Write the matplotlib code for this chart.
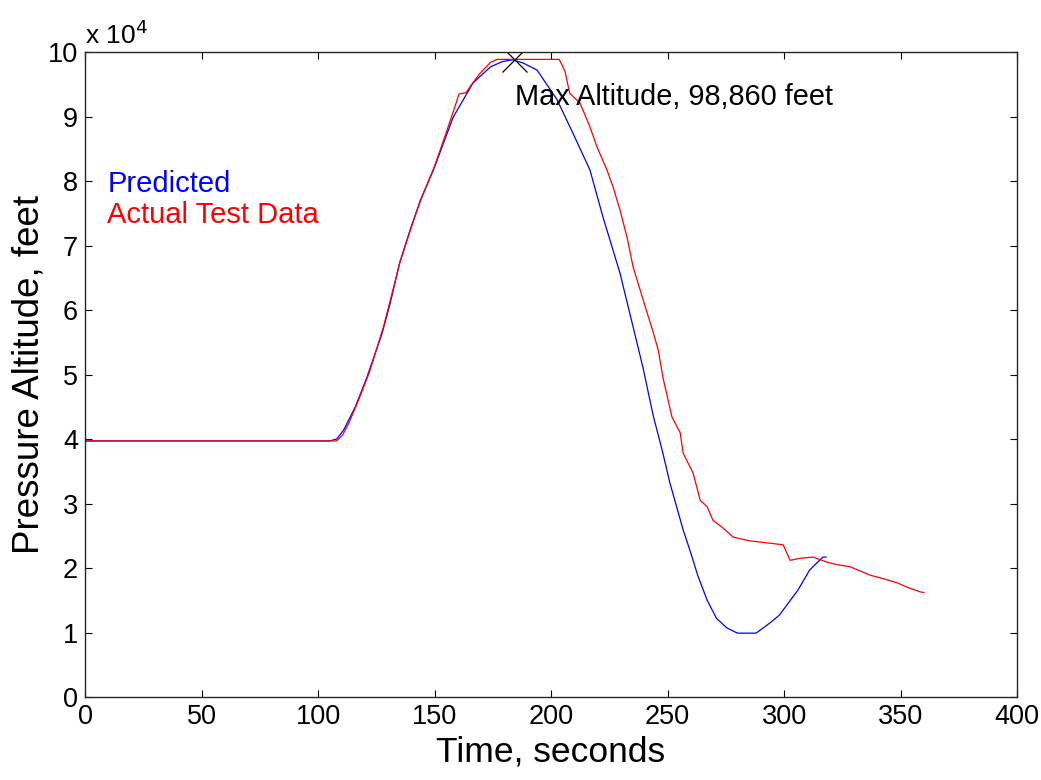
import matplotlib
matplotlib.use("Agg")
import matplotlib.pyplot as plt
from matplotlib.ticker import FuncFormatter

plt.rcParams['font.family'] = ['Liberation Sans', 'DejaVu Sans']

# Predicted trajectory
pred_t = [0, 105, 108, 111, 116, 121, 127.5, 131, 135, 139.5, 144, 149.5, 158, 166.5, 174, 179,
          183.3, 188, 194, 202.6, 209.4, 216.7, 222.3, 229.6, 235.2, 239.5, 243.8, 248, 251,
          256.7, 260, 263, 267, 271, 275.5, 280, 288, 294, 298, 306, 311, 316.7, 318]
pred_alt = [39700, 39700, 40000, 41400, 45000, 49600, 56400, 61100, 67300, 72400, 77100, 81700,
            89900, 95200, 97700, 98500, 98800, 98300, 97200, 92600, 87400, 81700, 74400, 65700,
            57400, 51000, 43700, 37800, 33200, 25900, 22300, 18800, 15000, 12200, 10700, 9900,
            9900, 11500, 12700, 16600, 19700, 21700, 21700]

# Actual test data
act_t = [0, 108, 110.5, 113, 117, 122, 128, 131, 135, 140, 144, 150, 155, 159, 160.5, 163.5, 166,
         169.5, 174, 177, 185, 195, 203.5, 206, 208, 212.4, 216.7, 219.7, 224, 226.6, 229.6,
         232.6, 235.2, 239.5, 243.8, 246, 248.1, 251.9, 255.4, 256.7, 261, 264, 267, 269.5,
         273.8, 278.1, 285.4, 292.7, 299.6, 302.6, 306.9, 312.4, 318.5, 323, 328.3, 333, 336.9,
         343, 348.5, 353, 358.4, 360]
act_alt = [39700, 39700, 40600, 42300, 45700, 50300, 57300, 61500, 67200, 72800, 77000, 82300,
           87500, 91800, 93500, 93700, 95000, 96700, 98400, 98860, 98860, 98860, 98860, 97000,
           93600, 92100, 88400, 85300, 81700, 79100, 75500, 71300, 66700, 61600, 56600, 53800,
           49400, 43400, 41000, 37800, 34700, 30500, 29500, 27400, 26200, 24800, 24200, 23900,
           23600, 21200, 21500, 21700, 20900, 20500, 20200, 19500, 18900, 18300, 17700, 17000,
           16300, 16200]

max_t = 184
max_alt = 98860
x_ticks = [0, 50, 100, 150, 200, 250, 300, 350, 400]
y_ticks = [0, 10000, 20000, 30000, 40000, 50000, 60000, 70000, 80000, 90000, 100000]

fig = plt.figure(figsize=(10.41, 7.80), dpi=100)
ax = fig.add_axes([0.0817, 0.1064, 0.977 - 0.0817, 0.9333 - 0.1064])

ax.plot(pred_t, pred_alt, color=(0, 0, 1), lw=0.9)
ax.plot(act_t, act_alt, color=(1, 0, 0), lw=0.9)
ax.plot([max_t], [max_alt], marker='x', color='black', markersize=18, mew=0.9, ls='none')
ax.text(max_t + 0.5, 93000, 'Max Altitude, 98,860 feet', fontsize=20.8, va='center', ha='left')

ax.text(9.5, 79500, 'Predicted', color=(0, 0, 1), fontsize=21, va='center')
ax.text(9.5, 74800, 'Actual Test Data', color=(1, 0, 0), fontsize=21, va='center')

ax.set_xlim(0, 400)
ax.set_ylim(0, 100000)
ax.set_xticks(x_ticks)
ax.set_yticks(y_ticks)
ax.yaxis.set_major_formatter(FuncFormatter(lambda v, p: f"{v/1e4:g}"))
ax.tick_params(direction='in', length=5, width=0.8, labelsize=19.5, top=True, right=True, pad=5)
for s in ax.spines.values():
    s.set_linewidth(1.0)
    s.set_color('#262626')

ax.set_xlabel('Time, seconds', fontsize=25.5, labelpad=4)
ax.set_ylabel('Pressure Altitude, feet', fontsize=26.5, labelpad=1)
ax.text(0.0, 1.004, r'x 10$^{4}$', transform=ax.transAxes, fontsize=19, ha='left', va='bottom')

fig.savefig('out.png', dpi=100)
